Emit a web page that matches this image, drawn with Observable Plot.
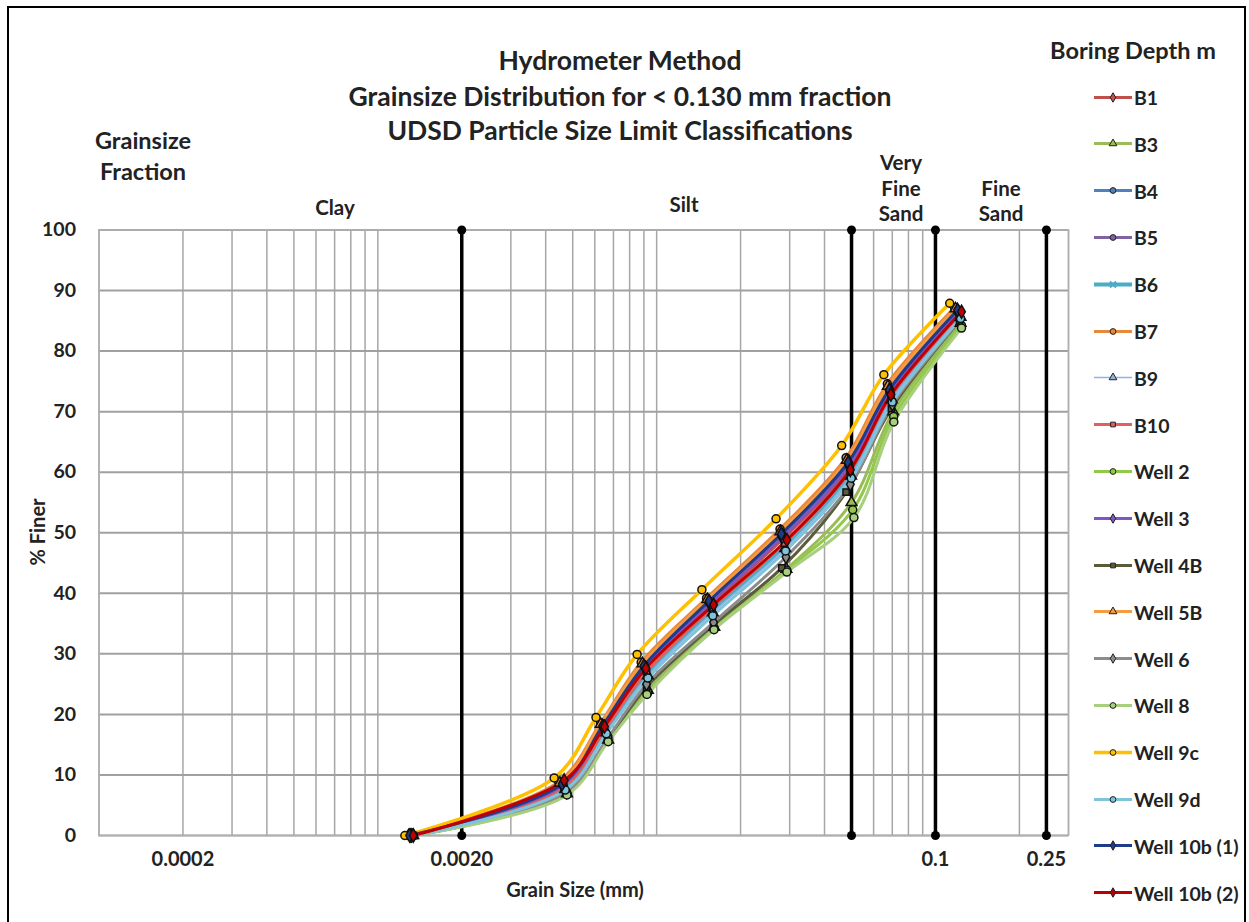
<!DOCTYPE html>
<html><head><meta charset="utf-8">
<script src="https://cdn.jsdelivr.net/npm/d3@7"></script>
<script src="https://cdn.jsdelivr.net/npm/@observablehq/plot@0.6"></script>
<style>
body{margin:0;background:#fff;font-family:Lato,"Open Sans",sans-serif;}
#wrap{position:relative;width:1249px;height:922px;overflow:hidden;background:#fff;}
#border{position:absolute;left:7px;top:6px;width:1235px;height:940px;border:2px solid #000;}
.t{position:absolute;font-weight:bold;color:#222;white-space:nowrap;transform:translate(-50%,-50%);line-height:1;}
.title{font-size:26.5px;}
.sub{font-size:23.5px;}
.lab{font-size:20.5px;}
.axl{font-size:20px;}
.leg{position:absolute;left:1093px;display:flex;align-items:center;transform:translateY(-50%);font-weight:bold;font-size:19.5px;color:#222;}
#chart{position:absolute;left:0;top:0;}
</style></head><body><div id="wrap"><div id="border"></div><div id="chart"></div></div>
<script>
const seriesNames = ["B1","B3","B4","B5","B6","B7","B9","B10","Well 2","Well 3","Well 4B","Well 5B","Well 6","Well 8","Well 9c","Well 9d","Well 10b (1)","Well 10b (2)"];
const seriesColors = ["#C0504D","#9BBB59","#4F81BD","#8064A2","#4BACC6","#E8883A","#8EB4E3","#E06060","#92C94A","#7E57C2","#5B5B3A","#F59B42","#8C8C8C","#A8CF7E","#FFC000","#7FC4DB","#1F3C88","#C00000"];
const seriesSymbols = ["diamond","triangle","circle","circle","times","circle","triangle","square","circle","diamond","square","triangle","diamond","circle","circle","circle","diamond","diamond"];
const seriesWidths = [3,3,3,3,4,3,1.5,3,3,3,3,3,3,3,3.5,3,3,3];

// grain size (mm) per series, legend order
const grainSize = [
  [0.00132,0.00462,0.00648,0.0091,0.0156,0.0284,0.0492,0.0690,0.121],
  [0.00134,0.00477,0.0067,0.0093,0.0161,0.0292,0.0500,0.0705,0.123],
  [0.0013,0.0046,0.00642,0.00905,0.0155,0.0281,0.0488,0.0685,0.120],
  [0.0013,0.00455,0.0064,0.0090,0.0153,0.0279,0.0484,0.068,0.119],
  [0.00133,0.00468,0.00655,0.0092,0.0158,0.0288,0.0496,0.0695,0.122],
  [0.00128,0.00445,0.0063,0.0088,0.0151,0.0277,0.0478,0.0672,0.117],
  [0.00133,0.0047,0.0066,0.0093,0.0159,0.0289,0.0498,0.0697,0.123],
  [0.00133,0.00465,0.0065,0.0092,0.0158,0.0287,0.0494,0.0693,0.122],
  [0.00134,0.00477,0.0067,0.0093,0.0161,0.0293,0.0505,0.0708,0.124],
  [0.00131,0.0046,0.00645,0.0091,0.0155,0.0282,0.0490,0.0687,0.121],
  [0.00134,0.00476,0.0067,0.0092,0.0160,0.0281,0.0478,0.0695,0.122],
  [0.00129,0.0045,0.0063,0.0089,0.0152,0.0278,0.0481,0.0675,0.118],
  [0.00134,0.00475,0.0067,0.0092,0.0160,0.0291,0.0495,0.0700,0.123],
  [0.00134,0.00477,0.0067,0.00923,0.01606,0.0293,0.0510,0.0709,0.124],
  [0.00125,0.00429,0.00606,0.00851,0.01453,0.0268,0.0461,0.0653,0.1125],
  [0.00134,0.0047,0.0066,0.0093,0.0159,0.0290,0.0499,0.0700,0.123],
  [0.0013,0.00458,0.0064,0.0090,0.0154,0.0280,0.0486,0.0683,0.120],
  [0.00134,0.00466,0.0065,0.00915,0.0160,0.0293,0.0495,0.0692,0.124]
];
// percent finer per series
const percentFiner = [
  [0,8.2,17.7,27.5,38.1,49.0,60.8,73.0,86.3],
  [0,6.9,15.8,24.0,34.4,44.0,55.0,70.0,84.6],
  [0,8.4,18.0,27.9,38.5,49.6,61.4,73.4,86.6],
  [0,8.6,18.3,28.2,38.8,50.0,61.8,73.9,86.9],
  [0,7.8,17.2,26.7,37.2,47.8,59.8,72.3,85.8],
  [0,8.9,18.6,28.6,39.2,50.6,62.4,74.6,87.2],
  [0,7.6,17.0,26.4,36.8,47.4,59.4,72.0,85.6],
  [0,8.0,17.4,27.0,37.6,48.3,60.2,72.6,86.0],
  [0,6.9,15.7,23.6,34.2,43.8,53.8,69.2,84.2],
  [0,8.3,17.9,27.7,38.3,49.3,61.1,73.2,86.5],
  [0,7.0,16.0,24.5,34.8,44.2,56.7,70.5,85.0],
  [0,8.7,18.4,28.4,39.0,50.2,62.0,74.2,87.0],
  [0,7.2,16.2,25.0,35.2,46.0,58.0,71.2,85.2],
  [0,6.7,15.5,23.3,34.0,43.5,52.5,68.3,83.8],
  [0,9.5,19.5,29.9,40.6,52.3,64.4,76.1,87.9],
  [0,7.5,16.8,26.0,36.3,47.0,59.0,71.6,85.4],
  [0,8.5,18.1,28.0,38.7,49.8,61.6,73.6,86.8],
  [0,9.1,18.0,27.6,38.1,48.8,60.4,72.8,86.5]
];

const limitSizes = [0.002, 0.05, 0.1, 0.25];
const limitFiner = [0, 100];
const xTicks = [0.0002, 0.002, 0.05, 0.1, 0.25];
const xTickLabels = ["0.0002","0.0020","0.05","0.1","0.25"];
const yTicks = [0,10,20,30,40,50,60,70,80,90,100];
const xDomain = [0.0001, 0.3];

const rows = [];
seriesNames.forEach((s, i) => grainSize[i].forEach((x, j) => rows.push({series: s, x, y: percentFiner[i][j]})));
const limitPts = [];
limitSizes.forEach(x => limitFiner.forEach(y => limitPts.push({x, y})));
const gridX = d3.scaleLog().domain(xDomain).ticks();

const marks = [
  Plot.ruleX(gridX, {stroke: "#a6a6a6", strokeWidth: 1.5}),
  Plot.ruleY(yTicks, {stroke: "#a0a0a0", strokeWidth: 2}),
  Plot.frame({stroke: "#b0b0b0", strokeWidth: 1.5}),
  Plot.ruleX(limitSizes, {y1: 0, y2: 100, stroke: "#000", strokeWidth: 3.5}),
  Plot.dot(limitPts, {x: "x", y: "y", r: 4.5, fill: "#000"})
];
seriesNames.forEach((s, i) => {
  const d = rows.filter(r => r.series === s);
  marks.push(Plot.line(d, {x: "x", y: "y", stroke: seriesColors[i], strokeWidth: seriesWidths[i], curve: "catmull-rom"}));
});
seriesNames.forEach((s, i) => {
  const d = rows.filter(r => r.series === s);
  const sym = seriesSymbols[i];
  if (sym === "times") {
    marks.push(Plot.dot(d, {x: "x", y: "y", symbol: sym, r: 4, stroke: seriesColors[i], strokeWidth: 2}));
  } else {
    marks.push(Plot.dot(d, {x: "x", y: "y", symbol: sym, r: sym === "square" ? 3.5 : 4, fill: seriesColors[i], stroke: "#111", strokeWidth: 1.5}));
  }
});
marks.push(Plot.axisX(xTicks, {tickSize: 0, tickPadding: 16, fontSize: 20, tickFormat: d => xTickLabels[xTicks.indexOf(d)], label: null}));
marks.push(Plot.axisY(yTicks, {tickSize: 0, tickPadding: 23, label: null}));

const chart = Plot.plot({
  width: 1249, height: 922,
  marginLeft: 98.5, marginRight: 181, marginTop: 229.5, marginBottom: 87,
  x: {type: "log", domain: xDomain},
  y: {domain: [0, 100]},
  style: {fontFamily: "Lato, 'Open Sans', sans-serif", fontSize: "19.5px", fontWeight: "bold", color: "#222", background: "transparent"},
  marks
});
document.getElementById("chart").appendChild(chart);

const wrap = document.getElementById("wrap");
function txt(s, x, y, cls, extra) {
  const e = document.createElement("div");
  e.className = "t " + cls;
  e.textContent = s;
  e.style.left = x + "px"; e.style.top = y + "px";
  if (extra) e.style.transform = extra;
  wrap.appendChild(e);
}
txt("Hydrometer Method", 620, 60, "title");
txt("Grainsize Distribution for < 0.130 mm fraction", 620, 96, "title");
txt("UDSD Particle Size Limit Classifications", 620, 130, "title");
txt("Grainsize", 143, 141, "sub");
txt("Fraction", 143, 172, "sub");
txt("Clay", 335, 207, "lab");
txt("Silt", 684, 204, "lab");
txt("Very", 901, 162, "lab");
txt("Fine", 901, 188, "lab");
txt("Sand", 901, 213, "lab");
txt("Fine", 1001, 188, "lab");
txt("Sand", 1001, 213, "lab");
txt("Boring Depth m", 1133, 51, "sub");
txt("Grain Size (mm)", 575, 889, "axl");
txt("% Finer", 37, 532, "axl", "translate(-50%,-50%) rotate(-90deg)");

seriesNames.forEach((s, i) => {
  const e = document.createElement("div");
  e.className = "leg";
  e.style.top = (97 + i * 46.8) + "px";
  const sw = d3.create("svg").attr("width", 40).attr("height", 12);
  sw.append("line").attr("x1", 1).attr("x2", 39).attr("y1", 6).attr("y2", 6)
    .attr("stroke", seriesColors[i]).attr("stroke-width", seriesWidths[i]);
  const sym = seriesSymbols[i];
  const p = d3.symbol().type({circle: d3.symbolCircle, diamond: d3.symbolDiamond, triangle: d3.symbolTriangle, square: d3.symbolSquare, times: d3.symbolTimes}[sym]).size(sym === "square" ? 22 : 26)();
  const g = sw.append("path").attr("d", p).attr("transform", "translate(20,6)");
  if (sym === "times") g.attr("stroke", seriesColors[i]).attr("stroke-width", 2).attr("fill", "none");
  else g.attr("fill", seriesColors[i]).attr("stroke", "#222").attr("stroke-width", 1);
  e.appendChild(sw.node());
  const l = document.createElement("span");
  l.textContent = s; l.style.marginLeft = "1px";
  e.appendChild(l);
  wrap.appendChild(e);
});
</script></body></html>
